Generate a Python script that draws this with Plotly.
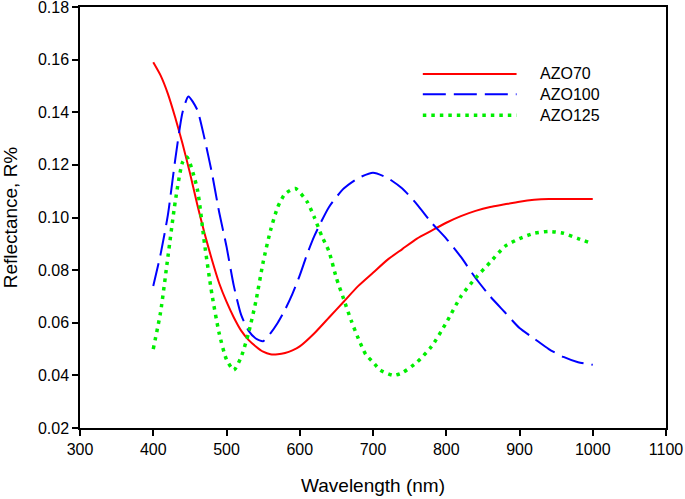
import plotly.graph_objects as go

# AZO70 (red, solid)
wl_70 = [400, 410, 420, 430, 440, 450, 460, 470, 480, 490, 500, 510, 520, 530, 540, 550, 560, 570,
         580, 590, 600, 620, 640, 660, 680, 700, 720, 740, 760, 780, 800, 820, 840, 860, 880, 900,
         920, 940, 960, 980, 1000]
r_70 = [0.159, 0.154, 0.147, 0.138, 0.128, 0.117, 0.105, 0.094, 0.084, 0.075, 0.068, 0.062, 0.057,
        0.0535, 0.051, 0.049, 0.048, 0.048, 0.0485, 0.0495, 0.051, 0.056, 0.062, 0.068, 0.074, 0.079,
        0.084, 0.088, 0.092, 0.095, 0.098, 0.1005, 0.1025, 0.104, 0.105, 0.106, 0.1067, 0.107, 0.107,
        0.107, 0.107]

# AZO100 (blue, dashed)
wl_100 = [400, 410, 420, 430, 440, 448, 460, 470, 480, 490, 500, 510, 520, 530, 540, 550, 560, 570,
          580, 590, 600, 610, 620, 640, 660, 680, 700, 720, 740, 760, 780, 800, 820, 840, 860, 880,
          900, 920, 940, 960, 980, 1000]
r_100 = [0.074, 0.086, 0.101, 0.122, 0.140, 0.146, 0.141, 0.130, 0.117, 0.102, 0.089, 0.074, 0.063,
         0.057, 0.054, 0.053, 0.056, 0.060, 0.065, 0.071, 0.078, 0.086, 0.093, 0.104, 0.111, 0.115,
         0.117, 0.115, 0.111, 0.105, 0.098, 0.092, 0.085, 0.077, 0.070, 0.064, 0.058, 0.054, 0.050,
         0.047, 0.045, 0.044]

# AZO125 (green, dotted)
wl_125 = [400, 410, 420, 430, 440, 446, 460, 470, 480, 490, 500, 510, 520, 530, 540, 550, 560, 570,
          580, 594, 610, 620, 630, 640, 650, 660, 670, 680, 690, 700, 710, 728, 740, 760, 780, 800,
          820, 840, 860, 880, 900, 920, 940, 960, 980, 1000]
r_125 = [0.050, 0.064, 0.085, 0.106, 0.121, 0.123, 0.111, 0.090, 0.071, 0.056, 0.046, 0.042, 0.047,
         0.056, 0.068, 0.083, 0.095, 0.104, 0.109, 0.111, 0.106, 0.100, 0.093, 0.087, 0.077, 0.069,
         0.061, 0.054, 0.048, 0.045, 0.042, 0.040, 0.041, 0.045, 0.051, 0.060, 0.070, 0.077, 0.083,
         0.089, 0.092, 0.094, 0.0947, 0.094, 0.092, 0.090]

names = ["AZO70", "AZO100", "AZO125"]
x_ticks = [300, 400, 500, 600, 700, 800, 900, 1000, 1100]
y_ticks = [0.02, 0.04, 0.06, 0.08, 0.10, 0.12, 0.14, 0.16, 0.18]

styles = [dict(color="#ff0000", width=2, dash="solid"),
          dict(color="#0000ff", width=2, dash="23px,8px"),
          dict(color="#00ee00", width=3.5, dash="3.5px,5px")]

fig = go.Figure()
for wl, r, nm, st in zip([wl_70, wl_100, wl_125], [r_70, r_100, r_125], names, styles):
    fig.add_trace(go.Scatter(x=wl, y=r, mode="lines", name=nm,
                             line=dict(shape="spline", smoothing=0.6, **st), showlegend=False))

# legend drawn manually (long line samples like the original)
leg_y = [0.841, 0.793, 0.743]
for yy, nm, st in zip(leg_y, names, styles):
    fig.add_shape(type="line", xref="paper", yref="paper", x0=0.585, x1=0.745, y0=yy, y1=yy,
                  line=st)
    fig.add_annotation(xref="paper", yref="paper", x=0.781, y=yy, text=nm, showarrow=False,
                       xanchor="left", yanchor="middle", font=dict(size=16, color="black"))

axis_common = dict(ticks="outside", ticklen=6, tickwidth=1.5, tickcolor="black",
                   showline=True, linecolor="black", linewidth=1.5, mirror=True, showgrid=False,
                   zeroline=False, automargin=False, tickfont=dict(size=16),
                   ticklabeloverflow="allow")

fig.update_layout(
    width=685, height=499,
    margin=dict(l=80, r=19, t=7, b=71),
    paper_bgcolor="white", plot_bgcolor="white",
    font=dict(family="Liberation Sans, Arial, sans-serif", size=16, color="black"),
    xaxis=dict(range=[300, 1100], tickvals=x_ticks,
               title=dict(text="Wavelength (nm)", font=dict(size=19), standoff=22), **axis_common),
    yaxis=dict(range=[0.02, 0.18], tickvals=y_ticks, tickformat=".2f",
               title=dict(text="Reflectance, R%", font=dict(size=19), standoff=16), **axis_common),
)

fig.write_html("out.html", config={"displayModeBar": False},
               post_script="document.body.style.margin='0';document.body.style.overflow='hidden';")
